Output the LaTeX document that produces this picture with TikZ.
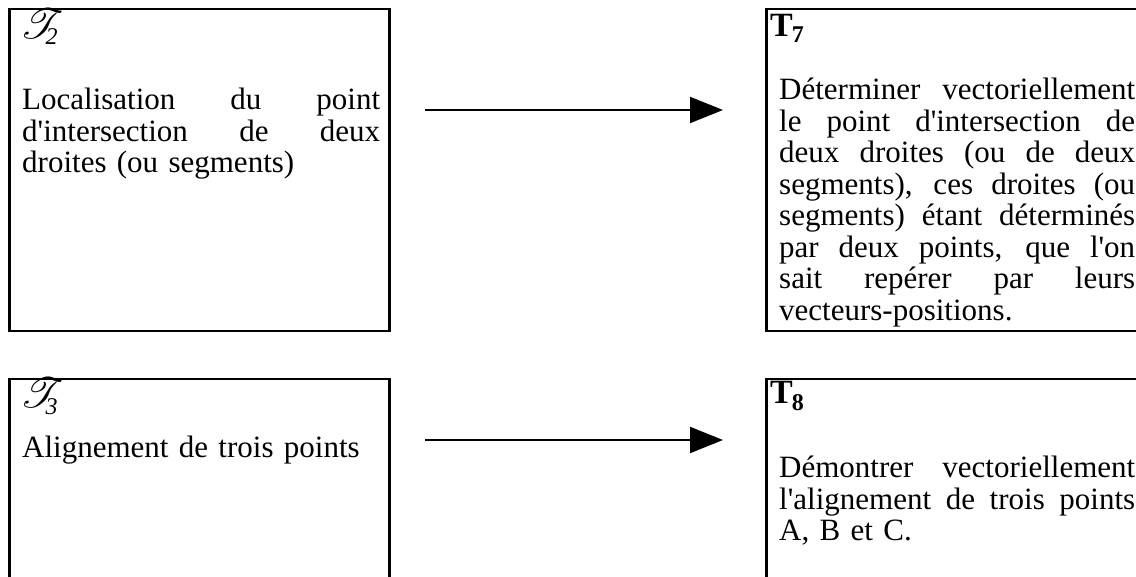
\documentclass[tikz,border=0pt]{standalone}
\usepackage{fontspec}
\setmainfont{Liberation Serif}
\newfontfamily\timesf{Liberation Serif}
\usetikzlibrary{arrows.meta}
\font\scrfont=rsfs10 at 42pt
\newcommand\jline[2]{\makebox[#1][s]{\spaceskip=0pt\xspaceskip=0pt\relax #2}}
\newcommand\scrlabel[1]{{\scrfont T}\kern-6pt\raisebox{-6pt}{\fontsize{24}{24}\selectfont\itshape #1}}
\newcommand\boldlabel[1]{{\bfseries T\kern-1pt\raisebox{-6pt}{\fontsize{24}{24}\selectfont #1}}}
\tikzset{
  boxst/.style={draw, line width=2.5pt, inner sep=0pt, anchor=north west},
  txt/.style={anchor=north west, inner sep=0pt, align=left, font=\timesf\fontsize{31}{31.5}\selectfont},
  lab/.style={anchor=base west, inner sep=0pt, font=\timesf\fontsize{34}{34}\selectfont},
  arr/.style={line width=2pt, -{Triangle[length=33pt,width=26pt]}},
}
\begin{document}
\begin{tikzpicture}[x=1pt,y=-1pt]
\useasboundingbox (0,0) rectangle (1136,577);
\clip (0,0) rectangle (1136,577);
% boxes
\node[boxst, minimum width=380pt, minimum height=322pt] (b2) at (8,8) {};
\node[boxst, minimum width=400pt, minimum height=322pt] (b7) at (765,8) {};
\node[boxst, minimum width=380pt, minimum height=240pt] (b3) at (8,378) {};
\node[boxst, minimum width=400pt, minimum height=240pt] (b8) at (765,378) {};
% labels
\node[lab] (l2) at (20,39) {\scrlabel{2}};
\node[lab] (l7) at (770,37) {\boldlabel{7}};
\node[lab] (l3) at (20,408) {\scrlabel{3}};
\node[lab] (l8) at (770,404) {\boldlabel{8}};
% texts
\node[txt, text width=358pt] (t2) at (22,88) {%
\jline{358pt}{Localisation du point}\\
\jline{358pt}{d'intersection de deux}\\
droites (ou segments)};
\node[txt, text width=356pt] (t7) at (779,78) {%
\jline{356pt}{Déterminer vectoriellement}\\
\jline{356pt}{le point d'intersection de}\\
\jline{356pt}{deux droites (ou de deux}\\
\jline{356pt}{segments), ces droites (ou}\\
\jline{356pt}{segments) étant déterminés}\\
\jline{356pt}{par deux points, que l'on}\\
\jline{356pt}{sait repérer par leurs}\\
vecteurs-positions.};
\node[txt, text width=358pt] (t3) at (22,436) {Alignement de trois points};
\node[txt, text width=356pt] (t8) at (779,456) {%
\jline{356pt}{Démontrer vectoriellement}\\
\jline{356pt}{l'alignement de trois points}\\
A, B et C.};
% arrows
\coordinate (a1s) at (425,110);
\coordinate (a1e) at (723,110);
\coordinate (a2s) at (425,440);
\coordinate (a2e) at (723,440);
\draw[arr] (a1s) -- (a1e);
\draw[arr] (a2s) -- (a2e);
\end{tikzpicture}
\end{document}
